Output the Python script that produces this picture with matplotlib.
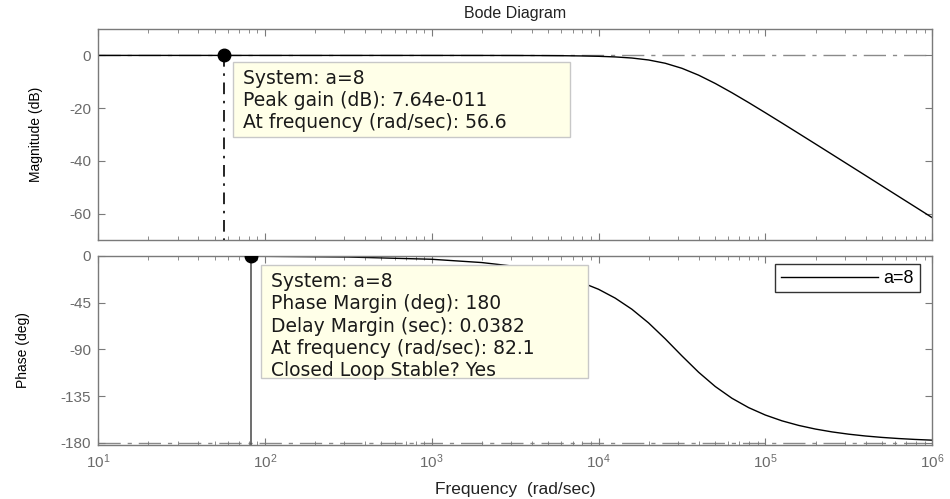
import numpy as np
import matplotlib
matplotlib.use("Agg")
import matplotlib.pyplot as plt
from matplotlib.patches import Rectangle
from matplotlib.ticker import LogLocator, FixedLocator, NullFormatter

plt.rcParams['font.family'] = ['Liberation Sans', 'DejaVu Sans']
plt.rcParams['mathtext.fontset'] = 'custom'
plt.rcParams['mathtext.rm'] = 'Liberation Sans'
plt.rcParams['axes.unicode_minus'] = False

# frequency response of system a=8 (rad/sec, dB, deg)
freq = [1e1, 1e2, 10**2.5, 1e3, 10**3.3, 10**3.5, 10**3.65, 10**3.8, 10**3.9,
        1e4, 10**4.1, 10**4.2, 10**4.3, 10**4.4, 10**4.5, 10**4.6, 10**4.7,
        10**4.8, 10**4.9, 1e5, 10**5.1, 10**5.2, 10**5.3, 10**5.4, 10**5.5,
        10**5.6, 10**5.7, 10**5.8, 10**5.9, 1e6]
mag_db = [0.0, 0.0, 0.0, -0.003, -0.012, -0.029, -0.06, -0.123, -0.2,
          -0.337, -0.573, -0.991, -1.729, -2.972, -4.884, -7.485, -10.639,
          -14.157, -17.884, -21.73, -25.64, -29.59, -33.55, -37.53, -41.52,
          -45.51, -49.51, -53.51, -57.50, -61.5]
phase_deg = [-0.03, -0.32, -1.0, -3.16, -6.32, -10.0, -14.17, -20.07, -25.6,
             -32.04, -40.55, -51.26, -64.42, -79.77, -96.18, -111.92, -125.69,
             -137.0, -146.01, -153.13, -158.73, -163.14, -166.63, -169.39,
             -171.58, -173.32, -174.69, -175.78, -176.65, -177.34]

# datatip values
peak_gain_db = 7.64e-11
peak_freq = 56.6
phase_margin = 180
delay_margin = 0.0382
pm_freq = 82.1

fig = plt.figure(figsize=(9.5, 4.99), dpi=100)
ax1 = fig.add_axes([0.1032, 0.519, 0.878, 0.4228])
ax2 = fig.add_axes([0.1032, 0.1082, 0.878, 0.3788])

tick_col = '#6a6a6a'
spine_col = '#7a7a7a'

for ax in (ax1, ax2):
    ax.set_xscale('log')
    ax.set_xlim(1e1, 1e6)
    ax.xaxis.set_major_locator(LogLocator(base=10, numticks=10))
    ax.xaxis.set_minor_locator(LogLocator(base=10, subs=np.arange(2, 10), numticks=20))
    ax.xaxis.set_minor_formatter(NullFormatter())
    ax.tick_params(which='both', direction='in', top=True, right=True,
                   colors=spine_col, labelcolor=tick_col, labelsize=11)
    ax.tick_params(which='major', length=5, pad=5)
    ax.tick_params(which='minor', length=3)
    for s in ax.spines.values():
        s.set_color(spine_col)
        s.set_linewidth(1.0)

dashdot = (0, (16, 5, 3, 5))

# magnitude
ax1.axhline(0, color='#8a8a8a', lw=1.0, ls=dashdot, zorder=1)
ax1.plot(freq, mag_db, color='black', lw=1.0, zorder=2)
ax1.plot([peak_freq, peak_freq], [peak_gain_db, -70], color='black', lw=1.2,
         ls=(0, (7, 4, 1.5, 4)), zorder=3)
ax1.plot(peak_freq, peak_gain_db, 'o', color='black', ms=9, zorder=4)
ax1.set_ylim(-70, 10)
ax1.yaxis.set_major_locator(FixedLocator([0, -20, -40, -60]))
ax1.set_xticklabels([])
ax1.set_ylabel('Magnitude (dB)', fontsize=10,
               family=['Liberation Sans Narrow', 'Liberation Sans'])
ax1.yaxis.set_label_coords(-0.066, 0.5)
ax1.set_title('Bode Diagram', fontsize=11.5, color='#222222', pad=8)

# phase
ax2.axhline(-180, color='#8a8a8a', lw=1.0, ls=dashdot, zorder=1)
ax2.plot(freq, phase_deg, color='black', lw=1.0, label='a=8', zorder=2)
ax2.plot([pm_freq, pm_freq], [phase_margin - 180, -182], color='#555555', lw=1.2, zorder=3)
ax2.plot(pm_freq, phase_margin - 180, 'o', color='black', ms=9, zorder=4)
ax2.set_ylim(-182, 0)
ax2.yaxis.set_major_locator(FixedLocator([0, -45, -90, -135, -180]))
ax2.set_ylabel('Phase (deg)', fontsize=10,
               family=['Liberation Sans Narrow', 'Liberation Sans'])
ax2.yaxis.set_label_coords(-0.082, 0.5)
ax2.set_xlabel('Frequency  (rad/sec)', fontsize=12.5, color='#222222', labelpad=8)

# datatip boxes (figure fraction)
tip_fc = '#ffffe8'
tip_ec = '#c8c8c8'
fig.patches.append(Rectangle((0.2453, 0.7255), 0.3547, 0.1503, transform=fig.transFigure,
                             fc=tip_fc, ec=tip_ec, lw=1.0, zorder=5))
fig.text(0.2558, 0.862,
         'System: a=8\n'
         f'Peak gain (dB): {peak_gain_db:.2e}'.replace('e-11', 'e-011') + '\n'
         f'At frequency (rad/sec): {peak_freq}',
         ha='left', va='top', fontsize=13.5, family='DejaVu Sans',
         color='#1a1a1a', linespacing=1.22, zorder=6)

fig.patches.append(Rectangle((0.2747, 0.2425), 0.3442, 0.2265, transform=fig.transFigure,
                             fc=tip_fc, ec=tip_ec, lw=1.0, zorder=5))
fig.text(0.2853, 0.455,
         'System: a=8\n'
         f'Phase Margin (deg): {phase_margin}\n'
         f'Delay Margin (sec): {delay_margin}\n'
         f'At frequency (rad/sec): {pm_freq}\n'
         'Closed Loop Stable? Yes',
         ha='left', va='top', fontsize=13.5, family='DejaVu Sans',
         color='#1a1a1a', linespacing=1.22, zorder=6)

leg = ax2.legend(loc='upper right', fontsize=13, frameon=True, fancybox=False,
                 handlelength=5.4, handletextpad=0.3, borderpad=0.3,
                 borderaxespad=0.0, bbox_to_anchor=(0.985, 0.955))
leg.get_frame().set_edgecolor('black')
leg.get_frame().set_linewidth(1.0)

fig.savefig('out.png', dpi=100)
